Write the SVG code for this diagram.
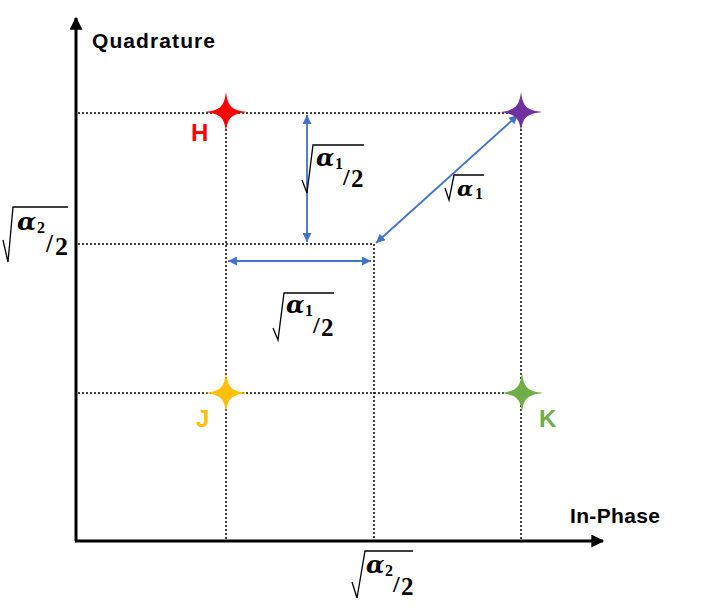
<svg xmlns="http://www.w3.org/2000/svg" width="706" height="612" viewBox="0 0 706 612">
<style>
.dot{stroke:#000;stroke-width:1.5;stroke-dasharray:2 2;fill:none}
.axis{stroke:#000;stroke-width:3;fill:none}
.blue{stroke:#4472C4;stroke-width:1.8;fill:none}
.lbl{font-family:"Liberation Sans",Arial,sans-serif;font-weight:bold;font-size:21px}
.pt{font-family:"Liberation Sans",Arial,sans-serif;font-weight:bold;font-size:24px}
.rad{stroke:#000;stroke-width:1.3;fill:none;stroke-linejoin:miter}
.al{font-family:"DejaVu Serif","Liberation Serif",serif;font-weight:bold;font-style:italic;fill:#000}
.num{font-family:"Liberation Serif","DejaVu Serif",serif;font-weight:bold;fill:#000}
</style>
<defs>
<marker id="bh" viewBox="0 0 10 10" refX="10" refY="5" markerWidth="11" markerHeight="9" markerUnits="userSpaceOnUse" orient="auto-start-reverse"><path d="M0,0L10,5L0,10Z" fill="#4472C4"/></marker>
<marker id="ah" viewBox="0 0 10 10" refX="9" refY="5" markerWidth="17" markerHeight="13" markerUnits="userSpaceOnUse" orient="auto"><path d="M0,0L10,5L0,10Z" fill="#000"/></marker>
<path id="star" d="M-21,0C-6,-2 -2,-5 0,-20C2,-5 6,-2 21,0C6,2 2,5 0,19C-2,5 -6,2 -21,0Z"/>
</defs>
<rect width="706" height="612" fill="#fff"/>
<g id="grid">
<path class="dot" d="M78,113H521M78,393H521M78,244H374M226,113V540M521,113V540M374,244V540"/>
</g>
<g id="axes">
<path class="axis" d="M76,541V18" marker-end="url(#ah)"/>
<path class="axis" d="M75,541H603" marker-end="url(#ah)"/>
<text class="lbl" x="92" y="48" textLength="123" lengthAdjust="spacing">Quadrature</text>
<text class="lbl" x="570" y="523" textLength="90" lengthAdjust="spacing">In-Phase</text>
</g>
<g id="connectors">
<path class="blue" d="M307,115V242" marker-start="url(#bh)" marker-end="url(#bh)"/>
<path class="blue" d="M228,261H371" marker-start="url(#bh)" marker-end="url(#bh)"/>
<path class="blue" d="M376,243L518,115" marker-start="url(#bh)" marker-end="url(#bh)"/>
</g>
<g id="H">
<use href="#star" x="226" y="112" fill="#FF0000"/>
<text class="pt" x="191" y="141" fill="#FF0000">H</text>
</g>
<g id="K-top">
<use href="#star" x="521" y="112" fill="#7030A0"/>
</g>
<g id="J">
<use href="#star" x="226" y="393" fill="#FFC000"/>
<text class="pt" x="196" y="427" fill="#FFC000">J</text>
</g>
<g id="K">
<use href="#star" x="522" y="393" fill="#70AD47"/>
<text class="pt" x="539" y="427" fill="#70AD47">K</text>
</g>
<g id="label-vert">
<path class="rad" d="M302,180L307,193L313,145H364"/>
<text class="al" x="316" y="166" font-size="24">α</text>
<text class="num" x="335" y="169" font-size="16">1</text>
<text class="num" x="343" y="185" font-size="24">/</text>
<text class="num" x="351" y="187" font-size="25">2</text>
</g>
<g id="label-diag">
<path class="rad" d="M445,188L449,200L454,175H484"/>
<text class="al" x="457" y="196" font-size="21">α</text>
<text class="num" x="475" y="199" font-size="16">1</text>
</g>
<g id="label-horiz">
<path class="rad" d="M273,328L278,340L284,293H334"/>
<text class="al" x="286" y="313" font-size="24">α</text>
<text class="num" x="305" y="316" font-size="16">1</text>
<text class="num" x="313" y="333" font-size="24">/</text>
<text class="num" x="321" y="336" font-size="25">2</text>
</g>
<g id="label-left">
<path class="rad" d="M3,240L8,262L13,207H68"/>
<text class="al" x="17" y="230" font-size="25">α</text>
<text class="num" x="37" y="233" font-size="16">2</text>
<text class="num" x="46" y="252" font-size="25">/</text>
<text class="num" x="55" y="255" font-size="26">2</text>
</g>
<g id="label-bottom">
<path class="rad" d="M352,582L357,598L365,551H413"/>
<text class="al" x="366" y="573" font-size="24">α</text>
<text class="num" x="385" y="576" font-size="16">2</text>
<text class="num" x="393" y="592" font-size="24">/</text>
<text class="num" x="401" y="595" font-size="25">2</text>
</g>
</svg>
